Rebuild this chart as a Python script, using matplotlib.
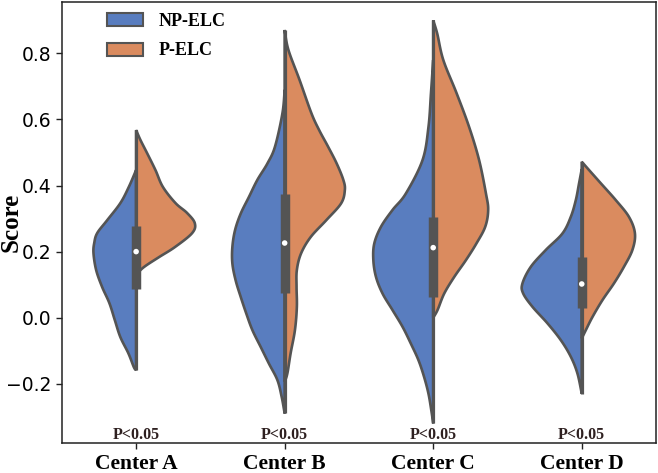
import numpy as np
import matplotlib
matplotlib.use("Agg")
import matplotlib.pyplot as plt
from matplotlib.patches import Patch

# ---------------- data ----------------
centers = ["Center A", "Center B", "Center C", "Center D"]
groups = ["NP-ELC", "P-ELC"]
p_labels = ["P<0.05", "P<0.05", "P<0.05", "P<0.05"]

# density profiles: score levels (top -> bottom) and half-widths (x-axis units)
a_np_y = [0.447, 0.396, 0.347, 0.295, 0.256, 0.226, 0.195, 0.144, 0.093, 0.044, -0.008, -0.059, -0.108, -0.150, -0.159]
a_np_w = [0.0, 0.049, 0.106, 0.195, 0.262, 0.282, 0.287, 0.269, 0.229, 0.180, 0.143, 0.106, 0.052, 0.015, 0.0]
a_p_y = [0.568, 0.538, 0.498, 0.447, 0.396, 0.347, 0.317, 0.286, 0.256, 0.214, 0.183, 0.153, 0.130]
a_p_w = [0.0, 0.029, 0.074, 0.130, 0.180, 0.265, 0.343, 0.395, 0.377, 0.262, 0.153, 0.052, 0.0]

b_np_y = [0.690, 0.619, 0.518, 0.467, 0.417, 0.366, 0.315, 0.265, 0.214, 0.164, 0.113, 0.063, 0.012, -0.038, -0.089, -0.139, -0.189, -0.240, -0.290]
b_np_w = [0.0, 0.015, 0.065, 0.116, 0.184, 0.240, 0.296, 0.334, 0.352, 0.352, 0.330, 0.296, 0.258, 0.217, 0.161, 0.106, 0.049, 0.020, 0.0]
b_p_y = [0.871, 0.811, 0.720, 0.619, 0.568, 0.518, 0.467, 0.417, 0.386, 0.346, 0.295, 0.244, 0.194, 0.144, 0.093, 0.032, -0.038, -0.108, -0.169, -0.194]
b_p_w = [0.0, 0.025, 0.100, 0.180, 0.232, 0.292, 0.350, 0.395, 0.405, 0.380, 0.280, 0.175, 0.110, 0.082, 0.080, 0.082, 0.069, 0.040, 0.018, 0.0]

c_np_y = [0.780, 0.680, 0.577, 0.477, 0.376, 0.326, 0.275, 0.224, 0.174, 0.123, 0.073, 0.023, -0.028, -0.079, -0.129, -0.180, -0.230, -0.280, -0.320]
c_np_w = [0.0, 0.015, 0.032, 0.072, 0.184, 0.274, 0.352, 0.397, 0.403, 0.385, 0.341, 0.274, 0.206, 0.150, 0.099, 0.061, 0.032, 0.013, 0.0]
c_p_y = [0.900, 0.860, 0.780, 0.680, 0.577, 0.477, 0.376, 0.326, 0.275, 0.224, 0.174, 0.123, 0.073, 0.023, 0.000]
c_p_w = [0.0, 0.027, 0.068, 0.157, 0.242, 0.309, 0.355, 0.370, 0.350, 0.290, 0.220, 0.141, 0.074, 0.029, 0.0]

d_np_y = [0.450, 0.407, 0.356, 0.305, 0.255, 0.205, 0.154, 0.104, 0.074, 0.033, -0.017, -0.068, -0.118, -0.169, -0.230]
d_np_w = [0.0, 0.018, 0.040, 0.074, 0.130, 0.242, 0.343, 0.399, 0.395, 0.332, 0.231, 0.141, 0.074, 0.029, 0.0]
d_p_y = [0.472, 0.447, 0.407, 0.356, 0.305, 0.255, 0.205, 0.154, 0.104, 0.053, 0.002, -0.038, -0.063]
d_p_w = [0.0, 0.049, 0.128, 0.229, 0.318, 0.358, 0.341, 0.284, 0.217, 0.139, 0.072, 0.027, 0.0]

# box statistics of each center (both groups pooled)
box_q1 = [0.088, 0.074, 0.063, 0.028]
box_median = [0.200, 0.226, 0.212, 0.102]
box_q3 = [0.277, 0.373, 0.305, 0.185]
whisker_lo = [-0.159, -0.290, -0.320, -0.230]
whisker_hi = [0.568, 0.871, 0.900, 0.472]

profiles = [
    ((a_np_y, a_np_w), (a_p_y, a_p_w)),
    ((b_np_y, b_np_w), (b_p_y, b_p_w)),
    ((c_np_y, c_np_w), (c_p_y, c_p_w)),
    ((d_np_y, d_np_w), (d_p_y, d_p_w)),
]

# ---------------- style ----------------
blue = "#597DBF"
orange = "#DA8B5F"
gray = "#545454"
serif = ["Liberation Serif", "DejaVu Serif"]


def smooth(ys, ws, n=16):
    """Catmull-Rom curve through the profile points (rendering only)."""
    P = np.column_stack([np.asarray(ws) * 148.7, np.asarray(ys) * 330.0])
    P = np.vstack([P[0], P, P[-1]])
    out = []
    t = np.linspace(0, 1, n, endpoint=False)[:, None]
    for i in range(1, len(P) - 2):
        p0, p1, p2, p3 = P[i - 1], P[i], P[i + 1], P[i + 2]
        seg = 0.5 * ((2 * p1) + (-p0 + p2) * t + (2 * p0 - 5 * p1 + 4 * p2 - p3) * t ** 2
                     + (-p0 + 3 * p1 - 3 * p2 + p3) * t ** 3)
        out.append(seg)
    out.append(P[-2][None])
    S = np.vstack(out)
    w = np.clip(S[:, 0] / 148.7, 0, None)
    y = S[:, 1] / 330.0
    return y, w


fig = plt.figure(figsize=(6.58, 4.73), dpi=100)
ax = fig.add_axes([0.094, 0.063, 0.903, 0.933])

for i, ((ny, nw), (py, pw)) in enumerate(profiles):
    y, w = smooth(ny, nw)
    ax.fill(np.concatenate([[i], i - w, [i]]), np.concatenate([[y[0]], y, [y[-1]]]),
            facecolor=blue, edgecolor=gray, linewidth=1.9, zorder=1)
    y, w = smooth(py, pw)
    ax.fill(np.concatenate([[i], i + w, [i]]), np.concatenate([[y[0]], y, [y[-1]]]),
            facecolor=orange, edgecolor=gray, linewidth=1.9, zorder=1)
    ax.plot([i, i], [whisker_lo[i], whisker_hi[i]], color=gray, linewidth=2.3,
            solid_capstyle="butt", zorder=2)
    ax.plot([i, i], [box_q1[i], box_q3[i]], color=gray, linewidth=6.8,
            solid_capstyle="butt", zorder=3)
    ax.scatter([i], [box_median[i]], s=16, color="white", edgecolor="none", zorder=4)
    ax.text(i, -0.356, p_labels[i], ha="center", va="center", fontsize=11.5,
            fontweight="bold", family=serif, color="#2e2020")

ax.set_xlim(-0.5, 3.5)
ax.set_ylim(-0.38, 0.956)
ax.set_xticks(range(len(centers)))
ax.set_xticklabels(centers, fontsize=15.5, fontweight="bold", family=serif)
ax.set_yticks([-0.2, 0.0, 0.2, 0.4, 0.6, 0.8])
ax.set_yticklabels(["\u22120.2", "0.0", "0.2", "0.4", "0.6", "0.8"], fontsize=13.5)
ax.set_ylabel("Score", fontsize=18, fontweight="bold", family=serif)
ax.yaxis.set_label_coords(-0.066, 0.5)
for s in ax.spines.values():
    s.set_color("#222222")
    s.set_linewidth(1.1)
ax.tick_params(axis="both", length=4, width=1, color="#222222")

handles = [Patch(facecolor=blue, edgecolor=gray, linewidth=1.5),
           Patch(facecolor=orange, edgecolor=gray, linewidth=1.5)]
ax.legend(handles, groups, loc="upper left", bbox_to_anchor=(0.048, 1.012), frameon=False,
          prop={"family": serif, "weight": "bold", "size": 13},
          handlelength=2.0, handleheight=0.75, labelspacing=0.7, handletextpad=0.9)

fig.savefig("out.png", dpi=100)
